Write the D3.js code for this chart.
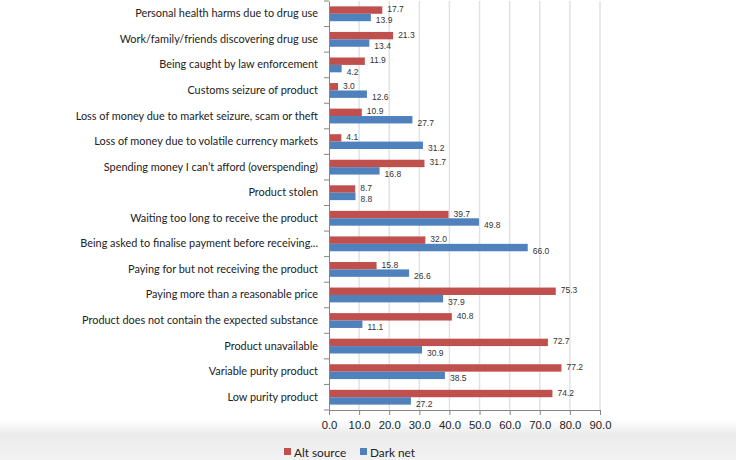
<!DOCTYPE html>
<html><head><meta charset="utf-8">
<script src="https://cdn.jsdelivr.net/npm/d3@7"></script>
<style>body{margin:0;background:#fff;}svg{display:block;}</style>
</head><body>
<svg id="c" width="736" height="460"></svg>
<script>
const categories = [
  "Personal health harms due to drug use",
  "Work/family/friends discovering drug use",
  "Being caught by law enforcement",
  "Customs seizure of product",
  "Loss of money due to market seizure, scam or theft",
  "Loss of money due to volatile currency markets",
  "Spending money I can\u2019t afford (overspending)",
  "Product stolen",
  "Waiting too long to receive the product",
  "Being asked to finalise payment before receiving...",
  "Paying for but not receiving the product",
  "Paying more than a reasonable price",
  "Product does not contain the expected substance",
  "Product unavailable",
  "Variable purity product",
  "Low purity product"
];
const altSource = [17.7, 21.3, 11.9, 3.0, 10.9, 4.1, 31.7, 8.7, 39.7, 32.0, 15.8, 75.3, 40.8, 72.7, 77.2, 74.2];
const darkNet   = [13.9, 13.4, 4.2, 12.6, 27.7, 31.2, 16.8, 8.8, 49.8, 66.0, 26.6, 37.9, 11.1, 30.9, 38.5, 27.2];
const xTicks = [0, 10, 20, 30, 40, 50, 60, 70, 80, 90];
const seriesNames = ["Alt source", "Dark net"];
const colors = ["#c0504d", "#4f81bd"];

const svg = d3.select("#c");
const font = "'Liberation Sans', Arial, sans-serif";
const catFont = "Lato, 'Liberation Sans', sans-serif";

// background gradient at bottom
const defs = svg.append("defs");
const g = defs.append("linearGradient").attr("id","bg").attr("x1",0).attr("x2",0).attr("y1",0).attr("y2",1);
g.append("stop").attr("offset","0").attr("stop-color","#ffffff");
g.append("stop").attr("offset","0.35").attr("stop-color","#ebebeb");
g.append("stop").attr("offset","1").attr("stop-color","#f2f2f2");
svg.append("rect").attr("x",0).attr("y",420).attr("width",736).attr("height",40).attr("fill","url(#bg)");

const x = d3.scaleLinear().domain([0, 90]).range([329, 600]);
const y = d3.scaleBand().domain(categories).range([1, 410]);
const bh = y.bandwidth() * 0.29;

// gridlines
svg.append("g").selectAll("line").data(xTicks.slice(1)).join("line")
  .attr("x1", d => x(d)).attr("x2", d => x(d))
  .attr("y1", 1).attr("y2", 410)
  .attr("stroke", "#dde3ea").attr("stroke-width", 1.5);

// bars
const rows = categories.map((c, i) => ({c, vals: [altSource[i], darkNet[i]]}));
const barG = svg.append("g");
rows.forEach(r => {
  const cy = y(r.c) + y.bandwidth() / 2;
  r.vals.forEach((v, j) => {
    const by = j === 0 ? cy - bh : cy;
    const labelCy = by + bh / 2 + (j === 0 ? -1 : 3);
    barG.append("rect")
      .attr("x", x(0)).attr("y", by)
      .attr("width", x(v) - x(0)).attr("height", bh)
      .attr("fill", colors[j]);
    barG.append("text")
      .attr("x", x(v) + 5).attr("y", labelCy + 3)
      .attr("font-family", font).attr("font-size", 8.5).attr("fill", "#333")
      .text(v.toFixed(1));
  });
});

// bottom axis
const xAxis = d3.axisBottom(x).tickValues(xTicks).tickFormat(d3.format(".1f")).tickSize(5).tickPadding(6);
const ax = svg.append("g").attr("transform", "translate(0,410)").call(xAxis);
ax.select(".domain").attr("stroke", "#868686");
ax.selectAll(".tick line").attr("stroke", "#868686");
ax.selectAll("text").attr("font-family", font).attr("font-size", 11.3).attr("fill", "#222");

// left axis (category)
const yAxis = d3.axisLeft(y).tickSize(0).tickPadding(11);
const ay = svg.append("g").attr("transform", "translate(329,0)").call(yAxis);
ay.select(".domain").attr("stroke", "#868686");
ay.selectAll("text").attr("font-family", catFont).attr("font-size", 10.9).attr("fill", "#222");
// boundary tick marks
const bounds = categories.map(c => y(c)).concat([y.range()[1]]);
svg.append("g").selectAll("line").data(bounds).join("line")
  .attr("x1", 324).attr("x2", 329).attr("y1", d => d).attr("y2", d => d)
  .attr("stroke", "#868686");

// legend
const leg = svg.append("g").attr("transform", "translate(0,452)");
const legX = [284, 360];
seriesNames.forEach((n, i) => {
  leg.append("rect").attr("x", legX[i]).attr("y", -4).attr("width", 7).attr("height", 7).attr("fill", colors[i]);
  leg.append("text").attr("x", legX[i] + 10).attr("y", 4.5)
    .attr("font-family", catFont).attr("font-size", 11.8).attr("fill", "#222").text(n);
});
</script>
</body></html>
